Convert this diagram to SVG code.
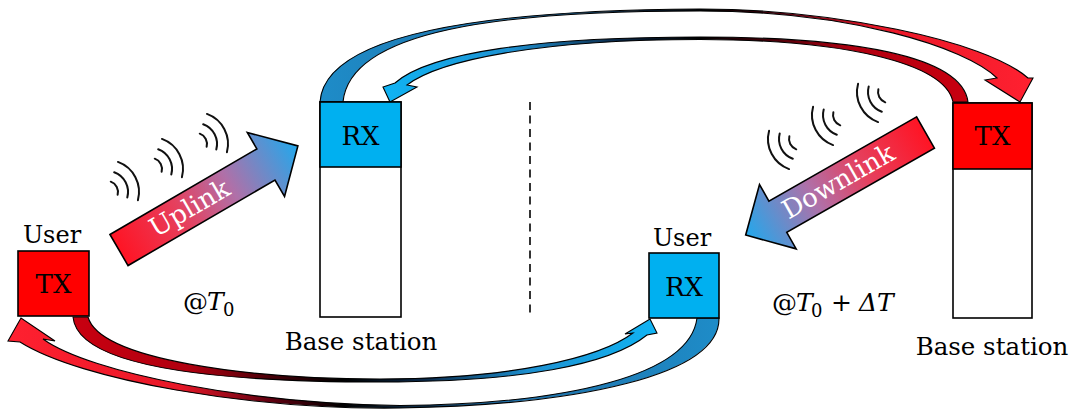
<svg xmlns="http://www.w3.org/2000/svg" width="1073" height="412" viewBox="0 0 1073 412">
<style>
.box{stroke:#000;stroke-width:1.6}
.lbl{font-family:"DejaVu Serif","Liberation Serif",serif;fill:#000}
.wlbl{font-family:"DejaVu Serif","Liberation Serif",serif;fill:#fff;font-size:26px;text-anchor:middle}
.wave{fill:none;stroke:#111;stroke-width:2;stroke-linecap:round}
.curve{stroke:#000;stroke-width:1.1;stroke-linejoin:miter}
.bigarrow{stroke:#000;stroke-width:1.6;stroke-linejoin:miter}
</style>
<defs>
<linearGradient id="gUp" gradientUnits="userSpaceOnUse" x1="0" y1="0" x2="207" y2="0">
<stop offset="0" stop-color="#ff1424"/><stop offset="0.35" stop-color="#e5405e"/><stop offset="0.62" stop-color="#b070a8"/><stop offset="1" stop-color="#22a8ec"/>
</linearGradient>
<linearGradient id="gDown" gradientUnits="userSpaceOnUse" x1="0" y1="0" x2="-207" y2="0">
<stop offset="0" stop-color="#ff1424"/><stop offset="0.35" stop-color="#e5405e"/><stop offset="0.62" stop-color="#b070a8"/><stop offset="1" stop-color="#22a8ec"/>
</linearGradient>
<linearGradient id="gA" gradientUnits="userSpaceOnUse" x1="320" y1="0" x2="1032" y2="0">
<stop offset="0" stop-color="#1e8cc8"/><stop offset="0.3" stop-color="#2070a8"/><stop offset="0.45" stop-color="#0a2035"/><stop offset="0.55" stop-color="#000"/><stop offset="0.66" stop-color="#600010"/><stop offset="0.78" stop-color="#e81828"/><stop offset="1" stop-color="#ff2030"/>
</linearGradient>
<linearGradient id="gB" gradientUnits="userSpaceOnUse" x1="968" y1="0" x2="383" y2="0">
<stop offset="0" stop-color="#c80010"/><stop offset="0.2" stop-color="#b00010"/><stop offset="0.35" stop-color="#400008"/><stop offset="0.46" stop-color="#000"/><stop offset="0.6" stop-color="#0a2848"/><stop offset="0.78" stop-color="#1e90d0"/><stop offset="1" stop-color="#10b4f4"/>
</linearGradient>
<linearGradient id="gC" gradientUnits="userSpaceOnUse" x1="73" y1="0" x2="657" y2="0">
<stop offset="0" stop-color="#c80010"/><stop offset="0.2" stop-color="#b00010"/><stop offset="0.35" stop-color="#400008"/><stop offset="0.46" stop-color="#000"/><stop offset="0.6" stop-color="#0a2848"/><stop offset="0.78" stop-color="#1e90d0"/><stop offset="1" stop-color="#10b4f4"/>
</linearGradient>
<linearGradient id="gD" gradientUnits="userSpaceOnUse" x1="719" y1="0" x2="8" y2="0">
<stop offset="0" stop-color="#1e8cc8"/><stop offset="0.3" stop-color="#2070a8"/><stop offset="0.45" stop-color="#0a2035"/><stop offset="0.53" stop-color="#000"/><stop offset="0.63" stop-color="#600010"/><stop offset="0.76" stop-color="#e81828"/><stop offset="1" stop-color="#ff2030"/>
</linearGradient>
</defs>
<rect width="1073" height="412" fill="#fff"/>

<g id="connectors">
<path id="arrow-rx-to-bs-tx" class="curve" fill="url(#gA)" d="M 320,102 C 325,30 500,10 700,9 C 830,9 985,40 1028,78 L 1033,78 L 1020,102 L 985,80 L 997,78 C 965,47 850,11 700,11 C 500,11 350,30 343,102 Z"/>
<path id="arrow-bs-tx-to-rx" class="curve" fill="url(#gB)" d="M 968,102 C 962,55 850,37 700,37 C 540,37 430,52 395,83 L 383,87 L 390,102 L 417,87 L 407,85 C 440,60 540,39.5 700,39.5 C 840,39.5 945,62 953,102 Z"/>
<path id="arrow-user-tx-to-user-rx" class="curve" fill="url(#gC)" d="M 73,317 C 78,372 240,382 380,382 C 520,382 610,365 647,335 L 657,333 L 650,319 L 625,334 L 633,333 C 600,358 510,379 380,379 C 250,379 100,360 88,317 Z"/>
<path id="arrow-user-rx-to-user-tx" class="curve" fill="url(#gD)" d="M 719,318 C 720,375 580,405 400,408 C 250,410 80,380 20,342 L 8,341 L 21,318 L 55,341 L 43,339 C 90,373 250,404 400,405.5 C 570,404 690,375 697,318 Z"/>
<line id="divider" x1="530" y1="102" x2="530" y2="318" stroke="#000" stroke-width="1.6" stroke-dasharray="8,5.5"/>
</g>

<g id="uplink">
<g transform="translate(119,250) rotate(-30.2)">
<polygon class="bigarrow" fill="url(#gUp)" points="0,-18 170,-18 170,-37 207,0 170,37 170,18 0,18"/>
<text class="wlbl" x="82" y="8">Uplink</text>
</g>
<path class="wave" d="M 110.76,181.66 A 11 11 0 0 1 117.63,194.85 M 114.18,172.26 A 21 21 0 0 1 127.29,197.44 M 117.94,161.92 A 32 32 0 0 1 137.91,200.29"/>
<path class="wave" d="M 154.76,158.66 A 11 11 0 0 1 161.63,171.85 M 158.18,149.26 A 21 21 0 0 1 171.29,174.44 M 161.94,138.92 A 32 32 0 0 1 181.91,177.29"/>
<path class="wave" d="M 199.76,133.66 A 11 11 0 0 1 206.63,146.85 M 203.18,124.26 A 21 21 0 0 1 216.29,149.44 M 206.94,113.92 A 32 32 0 0 1 226.91,152.29"/>
</g>

<g id="downlink">
<g transform="translate(925.5,132.5) rotate(-29.7)">
<polygon class="bigarrow" fill="url(#gDown)" points="0,-18 -170,-18 -170,-37 -207,0 -170,37 -170,18 0,18"/>
<text class="wlbl" x="-100" y="8">Downlink</text>
</g>
<path class="wave" d="M 796.24,149.34 A 11 11 0 0 1 789.37,136.15 M 792.82,158.74 A 21 21 0 0 1 779.71,133.56 M 789.06,169.08 A 32 32 0 0 1 769.09,130.71"/>
<path class="wave" d="M 840.24,125.34 A 11 11 0 0 1 833.37,112.15 M 836.82,134.74 A 21 21 0 0 1 823.71,109.56 M 833.06,145.08 A 32 32 0 0 1 813.09,106.71"/>
<path class="wave" d="M 885.24,102.34 A 11 11 0 0 1 878.37,89.15 M 881.82,111.74 A 21 21 0 0 1 868.71,86.56 M 878.06,122.08 A 32 32 0 0 1 858.09,83.71"/>
</g>

<g id="user-tx">
<text class="lbl" x="52" y="243" font-size="24" text-anchor="middle">User</text>
<rect class="box" x="18" y="251" width="71" height="65" fill="#ff0000"/>
<text class="lbl" x="53.5" y="293" font-size="26" text-anchor="middle">TX</text>
</g>

<g id="bs-left">
<rect class="box" x="320" y="102" width="81" height="215" fill="#fff"/>
<rect class="box" x="320" y="102" width="81" height="65" fill="#00b0f0"/>
<text class="lbl" x="360.5" y="145" font-size="26" text-anchor="middle">RX</text>
<text class="lbl" x="361" y="350" font-size="24.5" text-anchor="middle">Base station</text>
</g>

<g id="time-left">
<text class="lbl" font-size="25" y="310"><tspan x="183">@</tspan><tspan x="207" font-style="italic">T</tspan><tspan x="223" y="316" font-size="18">0</tspan></text>
</g>

<g id="user-rx">
<text class="lbl" x="682" y="246" font-size="24" text-anchor="middle">User</text>
<rect class="box" x="649" y="253" width="70" height="65" fill="#00b0f0"/>
<text class="lbl" x="684" y="296" font-size="26" text-anchor="middle">RX</text>
</g>

<g id="time-right">
<text class="lbl" font-size="25" y="311"><tspan x="772">@</tspan><tspan x="796" font-style="italic">T</tspan><tspan x="811" y="317" font-size="18">0</tspan><tspan x="831" y="311">+</tspan><tspan x="859" font-style="italic">Δ</tspan><tspan x="877" font-style="italic">T</tspan></text>
</g>

<g id="bs-right">
<rect class="box" x="953" y="103" width="79" height="215" fill="#fff"/>
<rect class="box" x="953" y="103" width="79" height="66" fill="#ff0000"/>
<text class="lbl" x="992.5" y="145" font-size="26" text-anchor="middle">TX</text>
<text class="lbl" x="992" y="355" font-size="24.5" text-anchor="middle">Base station</text>
</g>
</svg>
